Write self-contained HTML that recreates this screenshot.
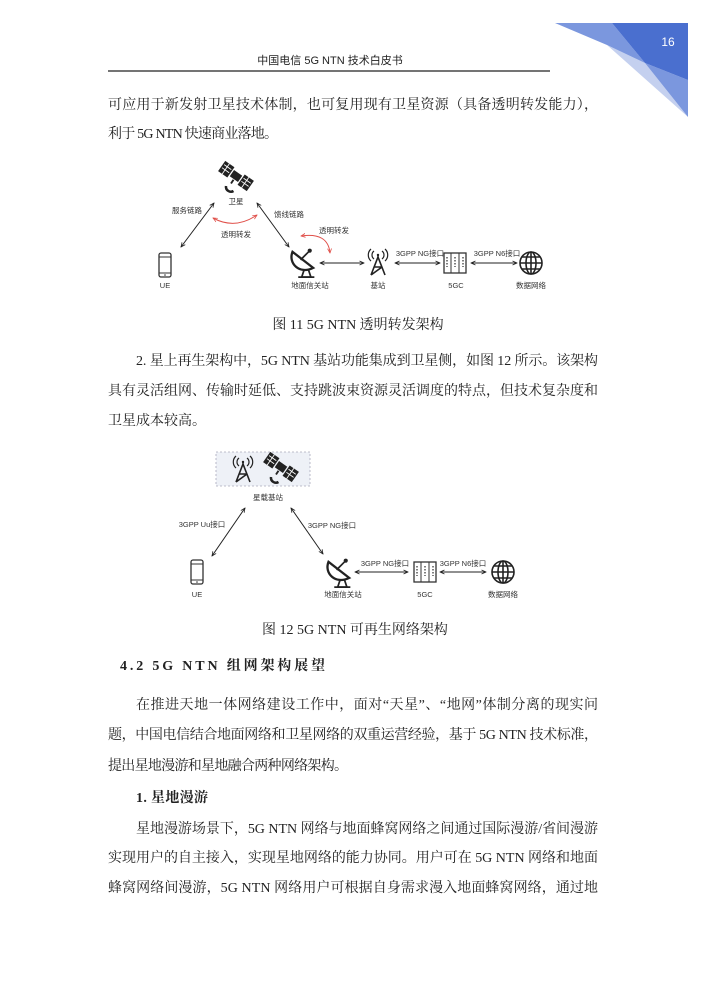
<!DOCTYPE html>
<html><head><meta charset="utf-8"><style>
html,body{margin:0;padding:0;background:#fff;}
svg{display:block;}
.b{font-family:"Liberation Serif","Noto Serif CJK SC",serif;font-size:14px;fill:#222;}
.s{font-family:"Liberation Sans","Noto Sans CJK SC",sans-serif;font-size:7.5px;fill:#333;}
.h{font-family:"Liberation Sans","Noto Sans CJK SC",sans-serif;font-size:11px;fill:#222;}
</style></head><body>
<svg width="710" height="1004" viewBox="0 0 710 1004" xmlns="http://www.w3.org/2000/svg">
<defs>
<marker id="a" viewBox="0 0 10 10" refX="9" refY="5" markerWidth="5" markerHeight="5" orient="auto-start-reverse"><path d="M0,1 L9,5 L0,9" fill="none" stroke="#222" stroke-width="1.6"/></marker>
<marker id="r" viewBox="0 0 10 10" refX="9" refY="5" markerWidth="5" markerHeight="5" orient="auto-start-reverse"><path d="M0,1 L9,5 L0,9" fill="none" stroke="#e0504a" stroke-width="1.6"/></marker>
<g id="phone"><rect x="-6" y="-12" width="12" height="24" rx="2" fill="none" stroke="#333" stroke-width="1.3"/><line x1="-6" y1="-8" x2="6" y2="-8" stroke="#333"/><line x1="-6" y1="8" x2="6" y2="8" stroke="#333"/><circle cx="0" cy="10" r="0.8" fill="#333"/></g>
<g id="dish"><g transform="scale(1.15)"><path d="M-10,-8 C-14,2 -4,12 8,6 Z" fill="none" stroke="#222" stroke-width="2"/><line x1="-3" y1="-1" x2="4" y2="-8" stroke="#222" stroke-width="1.5"/><circle cx="5" cy="-9" r="1.8" fill="#222"/><path d="M0,8 L-2,14 L6,14 L4,8" fill="none" stroke="#222" stroke-width="1.5"/><line x1="-5" y1="14" x2="9" y2="14" stroke="#222" stroke-width="1.5"/></g></g>
<g id="tower"><path d="M-7,12 L0,-6 L7,12 M-4,4 L4,4 M-7,12 L4,4 M0,-6 L0,-8" fill="none" stroke="#222" stroke-width="1.6"/><circle cx="0" cy="-8" r="1.2" fill="#222"/><path d="M-4,-12 A5,5 0 0 0 -4,-4 M4,-12 A5,5 0 0 1 4,-4 M-7,-14 A8,8 0 0 0 -7,-2 M7,-14 A8,8 0 0 1 7,-2" fill="none" stroke="#222" stroke-width="1.2"/></g>
<g id="core"><rect x="-11" y="-10" width="22" height="20" fill="none" stroke="#333" stroke-width="1.3"/><line x1="-4" y1="-10" x2="-4" y2="10" stroke="#333"/><line x1="4" y1="-10" x2="4" y2="10" stroke="#333"/><path d="M-8,-6v10M0,-6v10M8,-6v10" stroke="#555" stroke-width="1.5" stroke-dasharray="1.5 1.5"/></g>
<g id="globe" fill="none" stroke="#222" stroke-width="1.6"><circle r="11"/><ellipse rx="5" ry="11"/><line x1="-11" y1="0" x2="11" y2="0"/><path d="M-9,-6 H9 M-9,6 H9"/><line x1="0" y1="-11" x2="0" y2="11"/></g>
<g id="sat"><g transform="scale(1.25)"><g transform="rotate(35)"><rect x="-14" y="-5" width="9" height="10" fill="#222"/><rect x="5" y="-5" width="9" height="10" fill="#222"/><path d="M-13,-2h7M-13,1h7M6,-2h7M6,1h7M-10,-5v10M9,-5v10" stroke="#fff" stroke-width="0.7"/><rect x="-4" y="-3" width="8" height="6" fill="#222"/></g><path d="M-8,8 a4,4 0 0 0 6,4" fill="none" stroke="#222" stroke-width="2"/><line x1="-4" y1="6" x2="-2" y2="3" stroke="#222" stroke-width="1.5"/></g></g>
</defs>

<!-- corner -->
<polygon points="607,45 645,63 688,117" fill="#c4d0ef"/>
<polygon points="645,63 688,80 688,117" fill="#7b97de"/>
<polygon points="555,23 612,23 645,63 607,45" fill="#7b97de"/>
<polygon points="612,23 688,23 688,80 645,63" fill="#4a6fcf"/>
<text x="668" y="46" text-anchor="middle" font-family="Liberation Sans,sans-serif" font-size="12" fill="#fff">16</text>

<text x="330" y="64" text-anchor="middle" class="h">中国电信 5G NTN 技术白皮书</text>
<line x1="108" y1="71" x2="550" y2="71" stroke="#222" stroke-width="1.2"/>

<text x="108" y="109" class="b" textLength="490" lengthAdjust="spacing">可应用于新发射卫星技术体制，也可复用现有卫星资源（具备透明转发能力），</text>
<text x="108" y="138" class="b" textLength="170" lengthAdjust="spacing">利于 5G NTN 快速商业落地。</text>

<!-- Diagram 1 -->
<use href="#sat" x="236" y="176"/>
<text x="236" y="204" class="s" text-anchor="middle">卫星</text>
<use href="#phone" x="165" y="265"/>
<text x="165" y="288" class="s" text-anchor="middle">UE</text>
<use href="#dish" x="304" y="261"/>
<text x="310" y="288" class="s" text-anchor="middle">地面信关站</text>
<use href="#tower" x="378" y="263"/>
<text x="378" y="288" class="s" text-anchor="middle">基站</text>
<use href="#core" x="455" y="263"/>
<text x="456" y="288" class="s" text-anchor="middle">5GC</text>
<use href="#globe" x="531" y="263"/>
<text x="531" y="288" class="s" text-anchor="middle">数据网络</text>
<line x1="181" y1="247" x2="214" y2="203" stroke="#222" stroke-width="1" marker-start="url(#a)" marker-end="url(#a)"/>
<line x1="257" y1="203" x2="289" y2="247" stroke="#222" stroke-width="1" marker-start="url(#a)" marker-end="url(#a)"/>
<line x1="320" y1="263" x2="364" y2="263" stroke="#222" stroke-width="1" marker-start="url(#a)" marker-end="url(#a)"/>
<line x1="395" y1="263" x2="440" y2="263" stroke="#222" stroke-width="1" marker-start="url(#a)" marker-end="url(#a)"/>
<line x1="471" y1="263" x2="517" y2="263" stroke="#222" stroke-width="1" marker-start="url(#a)" marker-end="url(#a)"/>
<text x="187" y="213" class="s" text-anchor="middle">服务链路</text>
<text x="289" y="217" class="s" text-anchor="middle">馈线链路</text>
<text x="236" y="237" class="s" text-anchor="middle">透明转发</text>
<text x="334" y="233" class="s" text-anchor="middle">透明转发</text>
<text x="420" y="256" class="s" text-anchor="middle">3GPP NG接口</text>
<text x="497" y="256" class="s" text-anchor="middle">3GPP N6接口</text>
<path d="M213,218 Q235,230 257,215" fill="none" stroke="#e0504a" stroke-width="1" marker-start="url(#r)" marker-end="url(#r)"/>
<path d="M301,236 Q328,232 330,253" fill="none" stroke="#e0504a" stroke-width="1" marker-start="url(#r)" marker-end="url(#r)"/>

<text x="358" y="329" class="b" text-anchor="middle" font-size="13">图 11 5G NTN 透明转发架构</text>

<text x="136" y="365" class="b" textLength="462" lengthAdjust="spacing">2. 星上再生架构中，5G NTN 基站功能集成到卫星侧，如图 12 所示。该架构</text>
<text x="108" y="395" class="b" textLength="490" lengthAdjust="spacing">具有灵活组网、传输时延低、支持跳波束资源灵活调度的特点，但技术复杂度和</text>
<text x="108" y="425" class="b" textLength="98" lengthAdjust="spacing">卫星成本较高。</text>

<!-- Diagram 2 -->
<rect x="216" y="452" width="94" height="34" fill="#eef1f7" stroke="#aab" stroke-width="0.8" stroke-dasharray="2 2"/>
<use href="#tower" x="243" y="470"/>
<use href="#sat" x="281" y="467"/>
<text x="268" y="500" class="s" text-anchor="middle">星载基站</text>
<use href="#phone" x="197" y="572"/>
<text x="197" y="597" class="s" text-anchor="middle">UE</text>
<use href="#dish" x="340" y="571"/>
<text x="343" y="597" class="s" text-anchor="middle">地面信关站</text>
<use href="#core" x="425" y="572"/>
<text x="425" y="597" class="s" text-anchor="middle">5GC</text>
<use href="#globe" x="503" y="572"/>
<text x="503" y="597" class="s" text-anchor="middle">数据网络</text>
<line x1="212" y1="556" x2="245" y2="508" stroke="#222" stroke-width="1" marker-start="url(#a)" marker-end="url(#a)"/>
<line x1="291" y1="508" x2="323" y2="554" stroke="#222" stroke-width="1" marker-start="url(#a)" marker-end="url(#a)"/>
<line x1="355" y1="572" x2="408" y2="572" stroke="#222" stroke-width="1" marker-start="url(#a)" marker-end="url(#a)"/>
<line x1="440" y1="572" x2="486" y2="572" stroke="#222" stroke-width="1" marker-start="url(#a)" marker-end="url(#a)"/>
<text x="202" y="527" class="s" text-anchor="middle">3GPP Uu接口</text>
<text x="332" y="528" class="s" text-anchor="middle">3GPP NG接口</text>
<text x="385" y="566" class="s" text-anchor="middle">3GPP NG接口</text>
<text x="463" y="566" class="s" text-anchor="middle">3GPP N6接口</text>

<text x="355" y="634" class="b" text-anchor="middle" font-size="13">图 12 5G NTN 可再生网络架构</text>

<text x="120" y="670" class="b" font-size="17" font-weight="bold" textLength="205" lengthAdjust="spacing">4.2  5G NTN 组网架构展望</text>

<text x="136" y="709" class="b" textLength="462" lengthAdjust="spacing">在推进天地一体网络建设工作中，面对“天星”、“地网”体制分离的现实问</text>
<text x="108" y="739" class="b" textLength="490" lengthAdjust="spacing">题，中国电信结合地面网络和卫星网络的双重运营经验，基于 5G NTN 技术标准，</text>
<text x="108" y="770" class="b" textLength="240" lengthAdjust="spacing">提出星地漫游和星地融合两种网络架构。</text>
<text x="136" y="802" class="b" font-weight="bold" textLength="72" lengthAdjust="spacing">1. 星地漫游</text>
<text x="136" y="833" class="b" textLength="462" lengthAdjust="spacing">星地漫游场景下，5G NTN 网络与地面蜂窝网络之间通过国际漫游/省间漫游</text>
<text x="108" y="862" class="b" textLength="490" lengthAdjust="spacing">实现用户的自主接入，实现星地网络的能力协同。用户可在 5G NTN 网络和地面</text>
<text x="108" y="892" class="b" textLength="490" lengthAdjust="spacing">蜂窝网络间漫游，5G NTN 网络用户可根据自身需求漫入地面蜂窝网络，通过地</text>
</svg>
</body></html>
